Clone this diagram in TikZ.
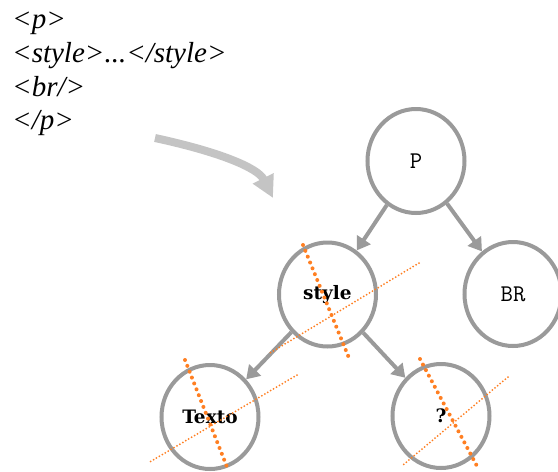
\documentclass[tikz,border=0pt]{standalone}
\usepackage{fontspec}
\setmainfont{Liberation Serif}
\newfontfamily\labelfont{DejaVu Serif}
\usepackage{xcolor}
\usepackage{tikz}
\usetikzlibrary{shapes.geometric,arrows.meta}

\definecolor{nodegray}{HTML}{9A9A9A}
\definecolor{flowgray}{HTML}{C4C4C4}
\definecolor{cutorange}{HTML}{FF7F22}

\begin{document}
\begin{tikzpicture}[
    x=1pt, y=-1pt,
    treenode/.style={ellipse, draw=nodegray, line width=4pt, fill=white,
        minimum width=97pt, minimum height=104pt, inner sep=0pt},
    tagname/.style={font=\ttfamily\fontsize{24}{28}\selectfont},
    boldname/.style={font=\labelfont\bfseries\fontsize{18.5}{22}\selectfont},
    markup/.style={anchor=base west, inner sep=0pt, font=\itshape\fontsize{29}{33}\selectfont},
    edge/.style={draw=nodegray, line width=4pt, -{Triangle[length=13pt,width=16pt]}},
    flow/.style={draw=flowgray, line width=8pt, -{Triangle[length=22pt,width=22pt]}},
    cutbig/.style={draw=cutorange, line width=4pt, line cap=round, dash pattern=on 0pt off 6.3pt},
    cutsmall/.style={draw=cutorange, line width=2pt, line cap=round, dash pattern=on 0pt off 3.4pt}
]
    \useasboundingbox (0,0) rectangle (558,472);

    % Source markup
    \node[markup] (open)  at (12,28)  {<p>};
    \node[markup] (inner) at (12,62)  {<style>...</style>};
    \node[markup] (br)    at (12,96)  {<br/>};
    \node[markup] (close) at (12,129) {</p>};

    % Curved arrow towards the tree
    \coordinate (flowstart) at (155,138);
    \coordinate (flowend) at (273,198);
    \draw[flow] (flowstart) .. controls (220,152) and (258,168) .. (flowend);

    % Tree nodes
    \node[treenode, tagname] (p) at (416,161) {P};
    \node[treenode, boldname] (style) at (327.5,294.5) {style};
    \node[treenode, tagname] (brnode) at (513,294) {BR};
    \node[treenode, boldname] (texto) at (210,417) {Texto};
    \node[treenode, boldname] (unknown) at (441,416) {?};

    % Edges
    \draw[edge] (p) -- (style);
    \draw[edge] (p) -- (brnode);
    \draw[edge] (style) -- (texto);
    \draw[edge] (style) -- (unknown);

    % Crossed out nodes
    \draw[cutbig] (303,245) -- (349,358);
    \draw[cutsmall] (419,263) -- (270,353);
    \draw[cutbig] (185,360) -- (227,467);
    \draw[cutsmall] (297,375) -- (148,463);
    \draw[cutbig] (420,359) -- (478,468);
    \draw[cutsmall] (508,377) -- (403,465);
\end{tikzpicture}
\end{document}
